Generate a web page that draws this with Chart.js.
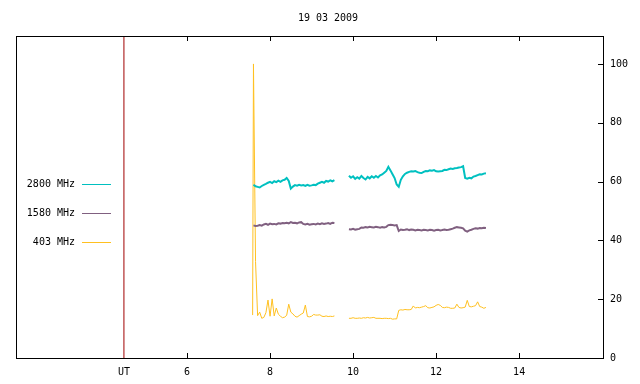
<!DOCTYPE html>
<html>
<head>
<meta charset="utf-8">
<script src="https://cdn.jsdelivr.net/npm/chart.js@4.4.1/dist/chart.umd.min.js"></script>
<style>
  html, body { margin: 0; padding: 0; background: #fff; }
  #wrap { width: 640px; height: 384px; }
</style>
</head>
<body>
<div id="wrap"><canvas id="chart" width="640" height="384"></canvas></div>
<script>
// ========== Data ==========
const chartTitle = "19 03 2009";
const seriesNames = ["2800 MHz", "1580 MHz", "403 MHz"];
const seriesColors = ["#00c0c0", "#806080", "#ffc020"];

const xMin = 1.88;
const xMax = 16.02;
const yMin = 0;
const yMax = 109.5;
const utHour = 4.48;
const xTickValues = [utHour, 6, 8, 10, 12, 14];
const yTickValues = [0, 20, 40, 60, 80, 100];

// hours UT (one gap point between the two runs)
const hours = [
  7.58,
  7.60, 7.65, 7.70, 7.75, 7.80, 7.85, 7.90, 7.95, 8.00, 8.05,
  8.10, 8.15, 8.20, 8.25, 8.30, 8.35, 8.40, 8.45, 8.50, 8.55,
  8.60, 8.65, 8.70, 8.75, 8.80, 8.85, 8.90, 8.95, 9.00, 9.05,
  9.10, 9.15, 9.20, 9.25, 9.30, 9.35, 9.40, 9.45, 9.50, 9.55,
  9.72,
  9.90, 9.95, 10.00, 10.05, 10.10, 10.15, 10.20, 10.25, 10.30, 10.35, 10.40, 10.45,
  10.50, 10.55, 10.60, 10.65, 10.70, 10.75, 10.80, 10.85, 10.90, 10.95, 11.00, 11.05,
  11.10, 11.15, 11.20, 11.25, 11.30, 11.35, 11.40, 11.45, 11.50, 11.55, 11.60, 11.65,
  11.70, 11.75, 11.80, 11.85, 11.90, 11.95, 12.00, 12.05, 12.10, 12.15, 12.20, 12.25,
  12.30, 12.35, 12.40, 12.45, 12.50, 12.55, 12.60, 12.65, 12.70, 12.75, 12.80, 12.85,
  12.90, 12.95, 13.00, 13.05, 13.10, 13.15, 13.20
];

const flux2800 = [
  null,
  58.9, 58.4, 58.2, 58.0, 58.5, 58.9, 59.2, 59.6, 59.9, 59.5,
  60.1, 59.8, 60.3, 59.9, 60.4, 60.6, 61.2, 60.2, 57.6, 58.3,
  58.8, 58.6, 58.9, 58.7, 58.8, 58.5, 58.9, 58.6, 58.7, 58.9,
  58.8, 59.3, 59.6, 59.9, 59.6, 60.2, 60.0, 60.4, 60.1, 60.5,
  null,
  62.0, 61.3, 61.8, 60.9, 61.5, 61.0, 61.9, 61.2, 60.7, 61.6, 61.1, 61.8,
  61.3, 61.9, 61.4, 62.1, 62.4, 63.0, 63.6, 65.0, 63.8, 62.5, 61.2, 59.0,
  58.2, 60.6, 61.8, 62.6, 63.0, 63.3, 63.5, 63.4, 63.6, 63.2, 63.0, 62.9,
  63.3, 63.6, 63.5, 63.8, 63.7, 63.9, 63.5, 63.4, 63.5, 63.6, 64.0, 63.9,
  64.2, 64.4, 64.3, 64.5, 64.6, 64.8, 64.9, 65.2, 61.2, 61.0, 61.3, 61.1,
  61.7, 61.9, 62.2, 62.5, 62.4, 62.7, 62.8
];

const flux1580 = [
  null,
  45.1, 44.9, 45.0, 45.2, 45.0, 45.4, 45.6, 45.3, 45.7, 45.5,
  45.6, 45.4, 45.8, 45.7, 45.9, 45.8, 46.0, 45.8, 46.2, 45.9,
  46.0, 45.8, 46.1, 46.2, 45.6, 45.4, 45.6, 45.3, 45.5, 45.6,
  45.4, 45.7, 45.5, 45.8, 45.6, 45.7, 45.9, 45.6, 46.0, 45.9,
  null,
  43.8, 43.7, 43.9, 43.6, 43.8, 43.9, 44.4, 44.3, 44.5, 44.4, 44.6, 44.5,
  44.4, 44.6, 44.5, 44.3, 44.5, 44.4, 44.6, 45.2, 45.3, 45.2, 45.1, 45.2,
  43.2, 43.7, 43.5, 43.6, 43.8, 43.5, 43.7, 43.6, 43.4, 43.6, 43.5, 43.4,
  43.6, 43.5, 43.4, 43.6, 43.5, 43.3, 43.5, 43.6, 43.4, 43.5, 43.7, 43.5,
  43.6, 43.8, 44.0, 44.3, 44.5, 44.4, 44.3, 44.1, 43.3, 43.0, 43.4, 43.6,
  43.9, 44.1, 44.0, 44.2, 44.1, 44.3, 44.2
];

const flux403 = [
  14.6,
  100, 32.8, 14.4, 15.6, 13.5, 13.8, 15.4, 19.7, 14.2, 20.1,
  14.3, 17.0, 14.9, 14.2, 13.7, 13.9, 14.5, 18.3, 15.6, 15.0,
  14.2, 13.9, 14.4, 14.9, 15.3, 18.0, 14.1, 14.0, 14.2, 14.8,
  14.6, 14.6, 14.7, 14.2, 14.1, 14.3, 14.1, 14.2, 14.1, 14.3,
  null,
  13.5, 13.5, 13.7, 13.5, 13.5, 13.6, 13.5, 13.7, 13.6, 13.8, 13.6, 13.7,
  13.8, 13.5, 13.5, 13.5, 13.4, 13.5, 13.5, 13.4, 13.5, 13.2, 13.3, 13.3,
  16.2, 16.4, 16.3, 16.5, 16.4, 16.4, 16.5, 17.7, 17.0, 17.2, 17.1, 17.3,
  17.5, 17.8, 17.1, 17.0, 17.2, 17.4, 17.9, 18.2, 17.9, 17.2, 17.1, 17.3,
  17.2, 16.9, 16.9, 17.0, 18.3, 17.2, 17.0, 17.1, 17.3, 19.6, 17.5, 17.4,
  17.6, 17.8, 19.1, 17.5, 17.3, 16.9, 17.2
];

// ========== Chart ==========
const monoFont = { family: "'DejaVu Sans Mono', monospace", size: 10, weight: "normal" };

function toPoints(values) {
  return hours.map((h, i) => ({ x: h, y: values[i] }));
}

const seriesValues = [flux2800, flux1580, flux403];
const widths = [2, 2, 1];

const datasets = seriesValues.map((vals, i) => ({
  label: seriesNames[i],
  data: toPoints(vals),
  borderColor: seriesColors[i],
  borderWidth: widths[i],
  pointRadius: 0,
  tension: 0,
  spanGaps: false,
}));
// UT marker line
datasets.push({
  label: "UT",
  data: [{ x: utHour, y: yMin }, { x: utHour, y: yMax }],
  borderColor: "#a00000",
  borderWidth: 1,
  pointRadius: 0,
});

// plugin: frame, inward ticks, legend
const frameAndLegend = {
  id: "frameAndLegend",
  afterDatasetsDraw: (chart) => {
    const { ctx, chartArea: a, scales } = chart;
    ctx.save();
    ctx.strokeStyle = "#000";
    ctx.lineWidth = 1;
    ctx.beginPath();
    xTickValues.forEach((v) => {
      if (v === utHour) return;
      const x = Math.round(scales.x.getPixelForValue(v)) + 0.5;
      ctx.moveTo(x, a.bottom);
      ctx.lineTo(x, a.bottom - 5);
      ctx.moveTo(x, a.top);
      ctx.lineTo(x, a.top + 5);
    });
    yTickValues.forEach((v) => {
      const y = Math.round(scales.y.getPixelForValue(v)) + 0.5;
      ctx.moveTo(a.right, y);
      ctx.lineTo(a.right - 5, y);
    });
    ctx.stroke();
    ctx.strokeRect(a.left + 0.5, a.top + 0.5, a.right - a.left, a.bottom - a.top);

    // legend
    ctx.font = "10px 'DejaVu Sans Mono', monospace";
    ctx.textAlign = "right";
    ctx.textBaseline = "middle";
    seriesNames.forEach((name, i) => {
      const y = 184 + i * 29;
      ctx.fillStyle = "#000";
      ctx.fillText(name, 75, y);
      ctx.strokeStyle = seriesColors[i];
      ctx.beginPath();
      ctx.moveTo(82, y + 0.5);
      ctx.lineTo(111, y + 0.5);
      ctx.stroke();
    });
    ctx.restore();
  },
};

const ctx = document.getElementById("chart").getContext("2d");
const chart = new Chart(ctx, {
  type: "line",
  data: { datasets: datasets },
  options: {
    responsive: false,
    animation: false,
    devicePixelRatio: 1,
    layout: { padding: { left: 16, top: 0, right: 0, bottom: 0 } },
    plugins: {
      legend: { display: false },
      tooltip: { enabled: false },
      title: {
        display: true,
        text: chartTitle,
        color: "#000",
        font: monoFont,
        padding: { top: 12, bottom: 12 },
      },
    },
    scales: {
      x: {
        type: "linear",
        position: "bottom",
        min: xMin,
        max: xMax,
        afterBuildTicks: (scale) => {
          scale.ticks = xTickValues.map((v) => ({ value: v }));
        },
        afterFit: (scale) => {
          scale.height = 26;
        },
        ticks: {
          color: "#000",
          font: monoFont,
          padding: 8,
          autoSkip: false,
          maxRotation: 0,
          callback: (v) => (v === utHour ? "UT" : String(v)),
        },
        grid: { display: false, drawTicks: false },
        border: { display: false },
      },
      y: {
        type: "linear",
        position: "right",
        min: yMin,
        max: yMax,
        afterBuildTicks: (scale) => {
          scale.ticks = yTickValues.map((v) => ({ value: v }));
        },
        afterFit: (scale) => {
          scale.width = 37;
        },
        ticks: {
          color: "#000",
          font: monoFont,
          padding: 7,
        },
        grid: { display: false, drawTicks: false },
        border: { display: false },
      },
    },
  },
  plugins: [frameAndLegend],
});
</script>
</body>
</html>
